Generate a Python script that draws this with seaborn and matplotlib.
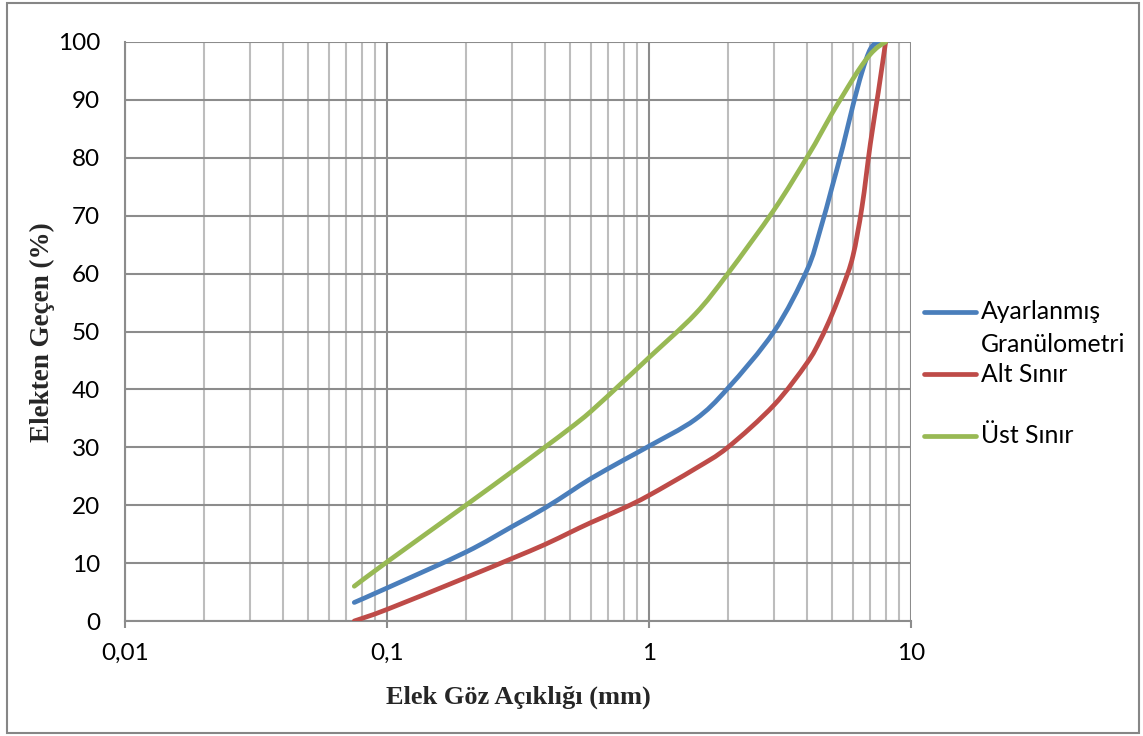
import matplotlib
matplotlib.use("Agg")
import matplotlib.pyplot as plt
from matplotlib.lines import Line2D
from matplotlib.patches import Rectangle, PathPatch
from matplotlib.path import Path
from matplotlib.ticker import FixedLocator, FixedFormatter, LogLocator, NullFormatter
import numpy as np
import pandas as pd
import seaborn as sns

# Sieve openings (mm) at which the passing percentages are given
sieve_mm = [0.075, 0.1, 0.2, 0.3, 0.4, 0.5, 0.6, 0.8, 1.0, 1.5, 2.0, 3.0,
            4.0, 4.5, 5.0, 5.5, 6.0, 6.5, 7.0, 7.5, 8.0]

# Passing percentages for each gradation
ayarlanmis = [3.2, 5.7, 11.9, 16.3, 19.5, 22.3, 24.6, 27.8, 30.2, 34.8, 40.2, 50.0,
              60.5, 67.5, 75.0, 82.0, 89.0, 94.8, 98.8, 100.0, 100.0]
alt_sinir = [0.0, 2.0, 7.5, 10.8, 13.2, 15.3, 17.0, 19.5, 21.7, 26.3, 30.0, 37.3,
             44.5, 48.5, 53.0, 57.8, 63.0, 71.5, 82.5, 91.3, 100.0]
ust_sinir = [6.0, 10.2, 20.0, 25.8, 30.0, 33.3, 36.2, 41.4, 45.5, 53.0, 60.0, 71.0,
             80.0, 84.0, 87.7, 90.8, 93.6, 96.0, 97.9, 99.2, 100.0]

series_names = ["Ayarlanmış Granülometri", "Alt Sınır", "Üst Sınır"]
series_colors = ["#4A7EBB", "#BE4B48", "#98B954"]

x_ticks = [0.01, 0.1, 1, 10]
x_tick_labels = ["0,01", "0,1", "1", "10"]
y_ticks = list(range(0, 101, 10))

x_title = "Elek Göz Açıklığı (mm)"
y_title = "Elekten Geçen (%)"

df = pd.concat([
    pd.DataFrame({"x": sieve_mm, "y": vals, "Seri": name})
    for name, vals in zip(series_names, [ayarlanmis, alt_sinir, ust_sinir])
], ignore_index=True)

sns.set_theme(style="white")
plt.rcParams["font.family"] = ["Lato", "DejaVu Sans"]

W, H = 1143, 736
fig = plt.figure(figsize=(W / 100, H / 100), dpi=100)
fig.patch.set_facecolor("white")


def fx(px):
    return px / W


def fy(py):
    return 1 - py / H


ax = fig.add_axes([fx(125), fy(621), fx(911) - fx(125), fy(42) - fy(621)])

sns.lineplot(data=df, x="x", y="y", hue="Seri", palette=series_colors,
             hue_order=series_names, sort=False, estimator=None,
             linewidth=3.4, legend=False, ax=ax)

ax.set_xscale("log")
ax.set_xlim(0.01, 10)
ax.set_ylim(0, 100)


def smoothed_path(xs, ys):
    """Bezier curve through the points (spreadsheet-style smoothed line),
    built in log-x space so it bends evenly on the log axis."""
    lx = np.log10(np.asarray(xs, float))
    ly = np.asarray(ys, float)
    pts = np.column_stack([lx, ly])
    n = len(pts)
    verts = [pts[0]]
    codes = [Path.MOVETO]
    for i in range(n - 1):
        p0 = pts[i - 1] if i > 0 else pts[i]
        p1 = pts[i]
        p2 = pts[i + 1]
        p3 = pts[i + 2] if i + 2 < n else pts[i + 1]
        c1 = p1 + (p2 - p0) / 6.0
        c2 = p2 - (p3 - p1) / 6.0
        verts += [c1, c2, p2]
        codes += [Path.CURVE4] * 3
    verts = np.array(verts)
    verts[:, 0] = 10 ** verts[:, 0]
    return Path(verts, codes)


# Replace the straight polylines with smoothed curves through the same points
for ln in list(ax.lines):
    xs, ys = ln.get_xdata(), ln.get_ydata()
    patch = PathPatch(smoothed_path(xs, ys), facecolor="none",
                      edgecolor=ln.get_color(), linewidth=3.4,
                      capstyle="round", joinstyle="round", zorder=3)
    ax.add_patch(patch)
    ln.set_visible(False)

ax.xaxis.set_major_locator(FixedLocator(x_ticks))
ax.xaxis.set_major_formatter(FixedFormatter(x_tick_labels))
ax.xaxis.set_minor_locator(LogLocator(base=10, subs=np.arange(2, 10)))
ax.xaxis.set_minor_formatter(NullFormatter())
ax.set_yticks(y_ticks)

ax.grid(True, which="major", axis="x", color="#8C8C8C", linewidth=1.5)
ax.grid(True, which="minor", axis="x", color="#BDBDBD", linewidth=1.5)
ax.grid(True, which="major", axis="y", color="#8C8C8C", linewidth=1.5)
ax.set_axisbelow(True)

for side in ["top", "right"]:
    ax.spines[side].set_visible(False)
for side in ["left", "bottom"]:
    ax.spines[side].set_color("#8C8C8C")
    ax.spines[side].set_linewidth(1.5)

ax.tick_params(axis="x", which="major", direction="out", length=5, width=1.5,
               color="#8C8C8C", pad=11, labelsize=17.5, labelcolor="black", bottom=True)
ax.tick_params(axis="x", which="minor", length=0)
ax.tick_params(axis="y", which="major", length=0, pad=18, labelsize=17.5,
               labelcolor="black", left=True)

ax.set_xlabel("")
ax.set_ylabel("")
fig.text(fx(518), fy(697), x_title, ha="center", va="center",
         fontsize=19, fontweight="bold", family="Liberation Serif")
fig.text(fx(42), fy(332), y_title, ha="center", va="center", rotation=90,
         fontsize=19.5, fontweight="bold", family="Liberation Serif")

# Legend drawn beside the plot area
legend_rows = [
    (312, [("Ayarlanmış", 319), ("Granülometri", 352)]),
    (374, [("Alt Sınır", 382)]),
    (436, [("Üst Sınır", 443)]),
]
for color, (hy, lines) in zip(series_colors, legend_rows):
    fig.add_artist(Line2D([fx(924), fx(976)], [fy(hy), fy(hy)], color=color,
                          linewidth=3.4, solid_capstyle="round",
                          transform=fig.transFigure))
    for txt, base in lines:
        fig.text(fx(981), fy(base), txt, ha="left", va="baseline", fontsize=17.8,
                 color="black")

# Chart border
fig.add_artist(Rectangle((fx(7), fy(733)), fx(1139) - fx(7), fy(3) - fy(733),
                         transform=fig.transFigure, fill=False,
                         edgecolor="#868686", linewidth=1.5))

fig.savefig("out.png", dpi=100, facecolor="white")
